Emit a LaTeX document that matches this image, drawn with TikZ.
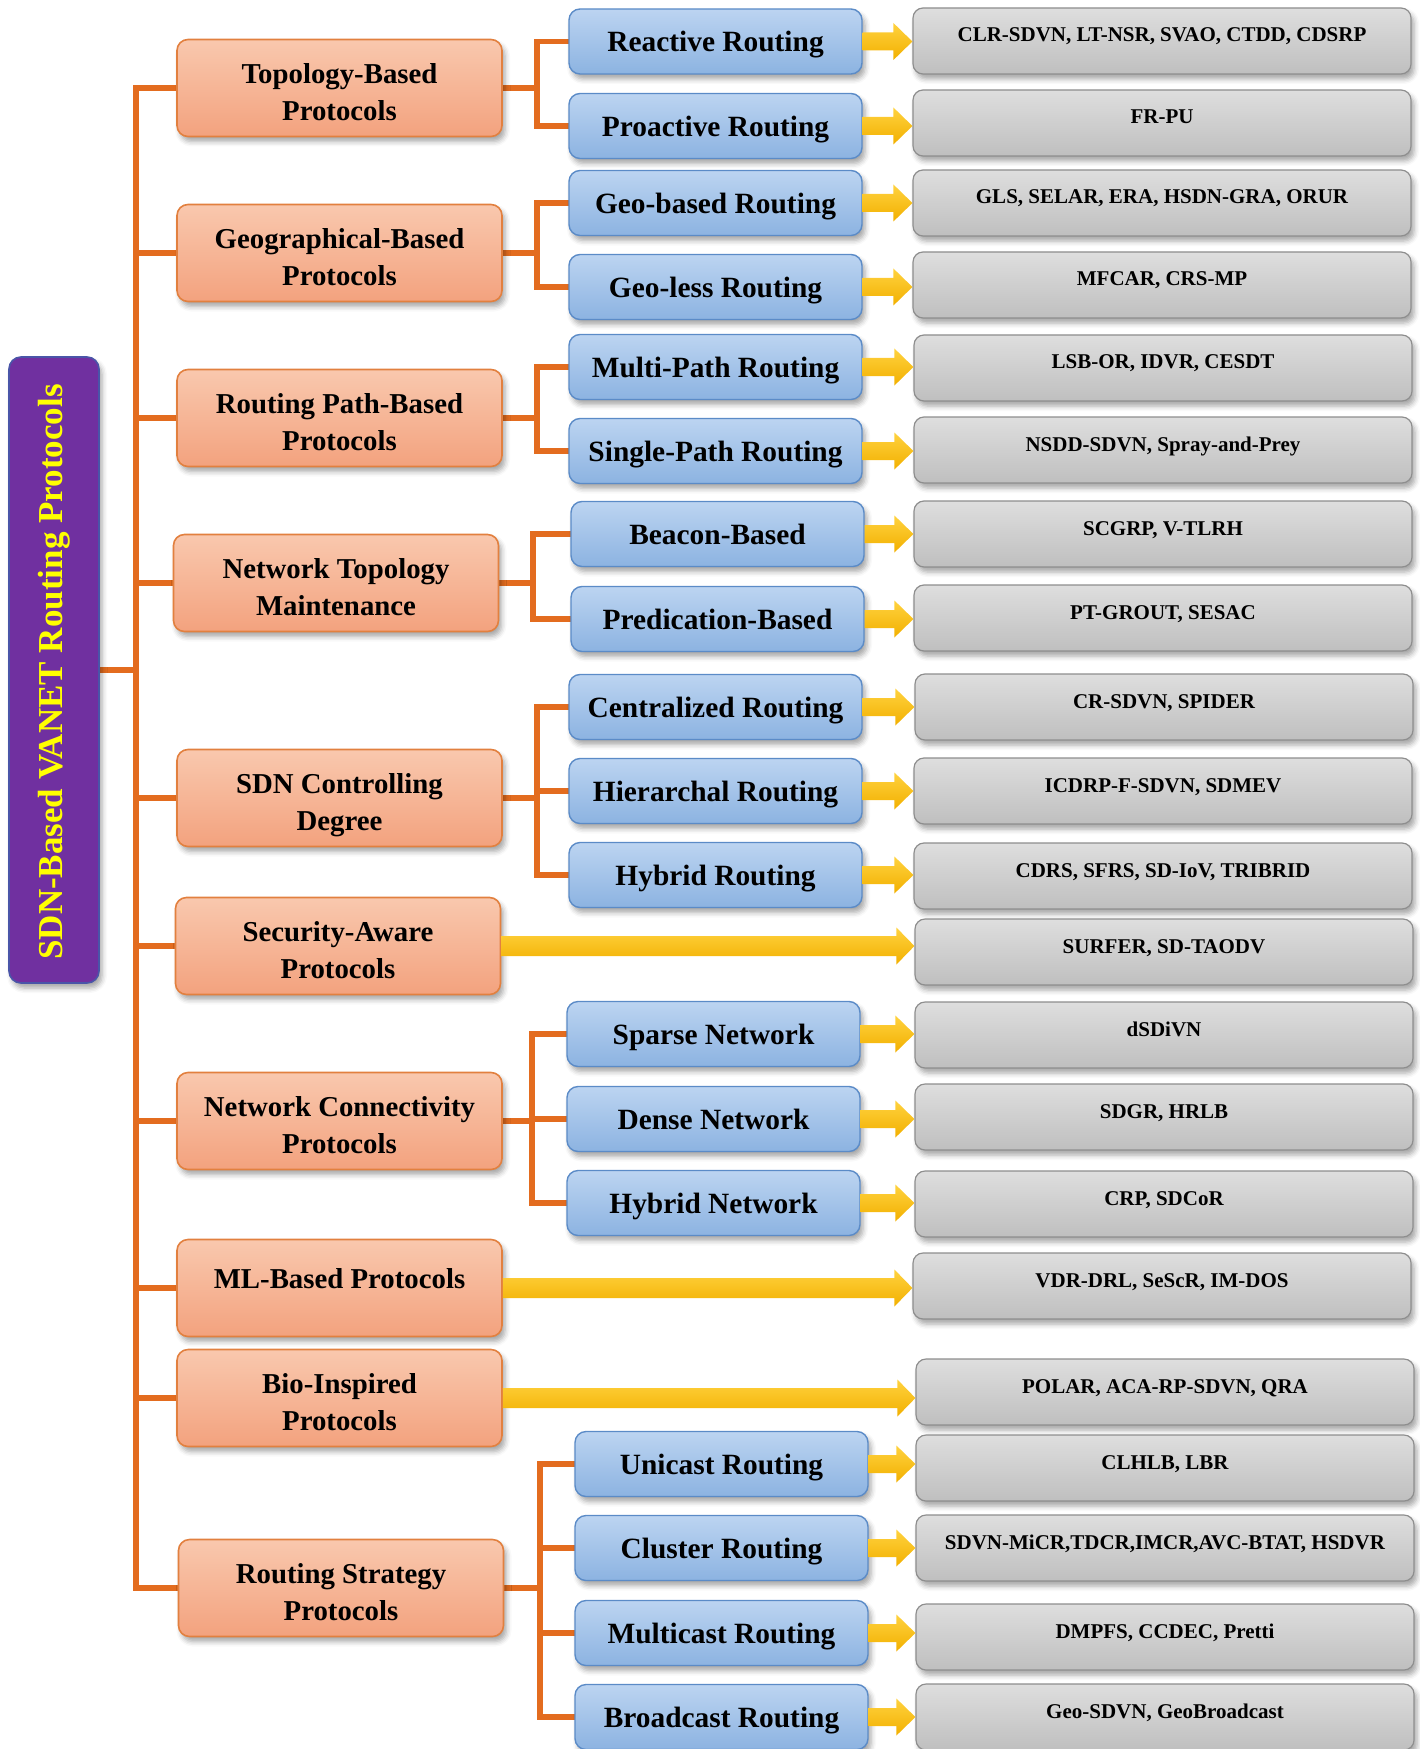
\documentclass[tikz,border=0pt]{standalone}
\usepackage{fontspec}
\setmainfont{Liberation Serif}
\usetikzlibrary{calc,backgrounds,shadows.blur}

\definecolor{linkorange}{HTML}{E36C1F}
\definecolor{catTop}{HTML}{F9C8AE}
\definecolor{catBot}{HTML}{F3A27E}
\definecolor{catLine}{HTML}{E2803F}
\definecolor{subTop}{HTML}{BCD4F1}
\definecolor{subBot}{HTML}{8CB3E1}
\definecolor{subLine}{HTML}{5B8BC7}
\definecolor{exTop}{HTML}{DEDEDE}
\definecolor{exBot}{HTML}{BFBFBF}
\definecolor{exLine}{HTML}{8E8E8E}
\definecolor{rootFill}{HTML}{7030A0}
\definecolor{rootLine}{HTML}{4A55A8}
\definecolor{rootText}{HTML}{FFFF00}
\definecolor{arrTop}{HTML}{FFD23F}
\definecolor{arrBot}{HTML}{F2B000}

% block arrow: #1 start, #2 tip, #3 half shaft, #4 half head, #5 head length
\newcommand\blockarrow[5]{%
  \path[yarrow] let \p1=(#1), \p2=(#2) in
    (\x1,\y1+#3) -- (\x2-#5,\y1+#3) -- (\x2-#5,\y1+#4) -- (\x2,\y1)
    -- (\x2-#5,\y1-#4) -- (\x2-#5,\y1-#3) -- (\x1,\y1-#3) -- cycle;}
\newcommand\shortarrow[2]{\blockarrow{#1}{#2}{4.5pt}{9.25pt}{9.5pt}}
\newcommand\widearrow[2]{\blockarrow{#1}{#2}{5pt}{9.25pt}{9pt}}

\tikzset{
  box/.style={rounded corners=5.5pt, inner sep=0pt, align=center,
    blur shadow={shadow xshift=1.5pt, shadow yshift=-2.5pt,
      shadow blur radius=2.5pt, shadow opacity=35}},
  cat/.style={box, draw=catLine, line width=0.8pt, top color=catTop,
    bottom color=catBot, minimum width=162.5pt, minimum height=48.5pt,
    font=\bfseries\fontsize{14.4}{18.4}\selectfont},
  sub/.style={box, draw=subLine, line width=0.7pt, top color=subTop,
    bottom color=subBot, minimum width=146.5pt, minimum height=32.5pt,
    text height=12.2pt, text depth=2pt,
    font=\bfseries\fontsize{14.7}{18}\selectfont},
  ex/.style={box, rounded corners=5pt, draw=exLine, line width=0.6pt,
    top color=exTop, bottom color=exBot, minimum width=249pt,
    minimum height=33pt, text height=7.5pt, text depth=6.5pt,
    font=\bfseries\fontsize{10.5}{12}\selectfont},
  rootbox/.style={box, rounded corners=6pt, draw=rootLine, line width=0.8pt,
    fill=rootFill, minimum width=45pt, minimum height=313pt},
  conn/.style={draw=linkorange, line width=2.6pt, line cap=rect},
  yarrow/.style={top color=arrTop, bottom color=arrBot, draw=none}
}

% two-line category label, set slightly below the box centre
\newcommand\twolines[2]{\begin{tabular}{@{}c@{}}\rule{0pt}{19.6pt}#1\\#2\end{tabular}}

\begin{document}
\begin{tikzpicture}[x=0.5pt, y=-0.5pt]
\useasboundingbox (0,0) rectangle (1419,1749);

% root
\node[rootbox] (root) at (54,670) {};
\node[rotate=90, text=rootText, font=\bfseries\fontsize{17.5}{20}\selectfont]
  (roottext) at (54,672) {SDN-Based VANET Routing Protocols};

% first level categories
\node[cat] (o1)  at (339.5,88)   {\twolines{Topology-Based}{Protocols}};
\node[cat] (o2)  at (339.5,253)  {\twolines{Geographical-Based}{Protocols}};
\node[cat] (o3)  at (339.5,418)  {\twolines{Routing Path-Based}{Protocols}};
\node[cat] (o4)  at (336,583)    {\twolines{Network Topology}{Maintenance}};
\node[cat] (o5)  at (339.5,798)  {\twolines{SDN Controlling}{Degree}};
\node[cat] (o6)  at (338,946)    {\twolines{Security-Aware}{Protocols}};
\node[cat] (o7)  at (339.5,1121) {\twolines{Network Connectivity}{Protocols}};
\node[cat] (o8)  at (339.5,1288) {\rule[-9.8pt]{0pt}{1pt}ML-Based Protocols};
\node[cat] (o9)  at (339.5,1398) {\twolines{Bio-Inspired}{Protocols}};
\node[cat] (o10) at (341,1588)   {\twolines{Routing Strategy}{Protocols}};

% second level
\node[sub] (b1)  at (715.5,41.5) {Reactive Routing};
\node[sub] (b2)  at (715.5,126)  {Proactive Routing};
\node[sub] (b3)  at (715.5,203)  {Geo-based Routing};
\node[sub] (b4)  at (715.5,287)  {Geo-less Routing};
\node[sub] (b5)  at (715.5,367)  {Multi-Path Routing};
\node[sub] (b6)  at (715.5,451)  {Single-Path Routing};
\node[sub] (b7)  at (717.5,534)  {Beacon-Based};
\node[sub] (b8)  at (717.5,619)  {Predication-Based};
\node[sub] (b9)  at (715.5,707)  {Centralized Routing};
\node[sub] (b10) at (715.5,791)  {Hierarchal Routing};
\node[sub] (b11) at (715.5,875)  {Hybrid Routing};
\node[sub] (b12) at (713.5,1034) {Sparse Network};
\node[sub] (b13) at (713.5,1119) {Dense Network};
\node[sub] (b14) at (713.5,1203) {Hybrid Network};
\node[sub] (b15) at (721.5,1464) {Unicast Routing};
\node[sub] (b16) at (721.5,1548) {Cluster Routing};
\node[sub] (b17) at (721.5,1633) {Multicast Routing};
\node[sub] (b18) at (721.5,1717) {Broadcast Routing};

% protocol examples
\node[ex] (g1)  at (1162,41)   {CLR-SDVN, LT-NSR, SVAO, CTDD, CDSRP};
\node[ex] (g2)  at (1162,123)  {FR-PU};
\node[ex] (g3)  at (1162,203)  {GLS, SELAR, ERA, HSDN-GRA, ORUR};
\node[ex] (g4)  at (1162,285)  {MFCAR, CRS-MP};
\node[ex] (g5)  at (1163,368)  {LSB-OR, IDVR, CESDT};
\node[ex] (g6)  at (1163,450)  {NSDD-SDVN, Spray-and-Prey};
\node[ex] (g7)  at (1163,534)  {SCGRP, V-TLRH};
\node[ex] (g8)  at (1163,618)  {PT-GROUT, SESAC};
\node[ex] (g9)  at (1164,707)  {CR-SDVN, SPIDER};
\node[ex] (g10) at (1163,791)  {ICDRP-F-SDVN, SDMEV};
\node[ex] (g11) at (1163,876)  {CDRS, SFRS, SD-IoV, TRIBRID};
\node[ex] (g12) at (1164,952)  {SURFER, SD-TAODV};
\node[ex] (g13) at (1164,1035) {dSDiVN};
\node[ex] (g14) at (1164,1117) {SDGR, HRLB};
\node[ex] (g15) at (1164,1204) {CRP, SDCoR};
\node[ex] (g16) at (1162,1286) {VDR-DRL, SeScR, IM-DOS};
\node[ex] (g17) at (1165,1392) {POLAR, ACA-RP-SDVN, QRA};
\node[ex] (g18) at (1165,1468) {CLHLB, LBR};
\node[ex] (g19) at (1165,1548) {SDVN-MiCR,TDCR,IMCR,AVC-BTAT, HSDVR};
\node[ex] (g20) at (1165,1637) {DMPFS, CCDEC, Pretti};
\node[ex] (g21) at (1165,1717) {Geo-SDVN, GeoBroadcast};

% orange tree lines
\begin{scope}[on background layer]
  \coordinate (tx) at (136,0);
  \draw[conn] (o1.west -| tx) -- (o10.west -| tx);
  \draw[conn] (root.east) -- (root.east -| tx);
  \foreach \o in {o1,o2,o3,o4,o5,o6,o7,o8,o9,o10}
    \draw[conn] (\o.west) -- (\o.west -| tx);

  \coordinate (bxA) at (537,0);
  \coordinate (bxB) at (533,0);
  \coordinate (bxC) at (532,0);
  \coordinate (bxD) at (540,0);

  \draw[conn] (o1.east) -- (o1.east -| bxA);
  \draw[conn] (b1.west) -- (b1.west -| bxA) -- (b2.west -| bxA) -- (b2.west);
  \draw[conn] (o2.east) -- (o2.east -| bxA);
  \draw[conn] (b3.west) -- (b3.west -| bxA) -- (b4.west -| bxA) -- (b4.west);
  \draw[conn] (o3.east) -- (o3.east -| bxA);
  \draw[conn] (b5.west) -- (b5.west -| bxA) -- (b6.west -| bxA) -- (b6.west);
  \draw[conn] (o4.east) -- (o4.east -| bxB);
  \draw[conn] (b7.west) -- (b7.west -| bxB) -- (b8.west -| bxB) -- (b8.west);
  \draw[conn] (o5.east) -- (o5.east -| bxA);
  \draw[conn] (b9.west) -- (b9.west -| bxA) -- (b11.west -| bxA) -- (b11.west);
  \draw[conn] (b10.west) -- (b10.west -| bxA);
  \draw[conn] (o7.east) -- (o7.east -| bxC);
  \draw[conn] (b12.west) -- (b12.west -| bxC) -- (b14.west -| bxC) -- (b14.west);
  \draw[conn] (b13.west) -- (b13.west -| bxC);
  \draw[conn] (o10.east) -- (o10.east -| bxD);
  \draw[conn] (b15.west) -- (b15.west -| bxD) -- (b18.west -| bxD) -- (b18.west);
  \draw[conn] (b16.west) -- (b16.west -| bxD);
  \draw[conn] (b17.west) -- (b17.west -| bxD);
\end{scope}

% yellow block arrows
\shortarrow{b1.east}{g1.west}
\shortarrow{b2.east}{g2.west}
\shortarrow{b3.east}{g3.west}
\shortarrow{b4.east}{g4.west}
\shortarrow{b5.east}{g5.west}
\shortarrow{b6.east}{g6.west}
\shortarrow{b7.east}{g7.west}
\shortarrow{b8.east}{g8.west}
\shortarrow{b9.east}{g9.west}
\shortarrow{b10.east}{g10.west}
\shortarrow{b11.east}{g11.west}
\shortarrow{b12.east}{g13.west}
\shortarrow{b13.east}{g14.west}
\shortarrow{b14.east}{g15.west}
\shortarrow{b15.east}{g18.west}
\shortarrow{b16.east}{g19.west}
\shortarrow{b17.east}{g20.west}
\shortarrow{b18.east}{g21.west}
\widearrow{o6.east}{g12.west}
\widearrow{o8.east}{g16.west}
\widearrow{o9.east}{g17.west}
\end{tikzpicture}
\end{document}
